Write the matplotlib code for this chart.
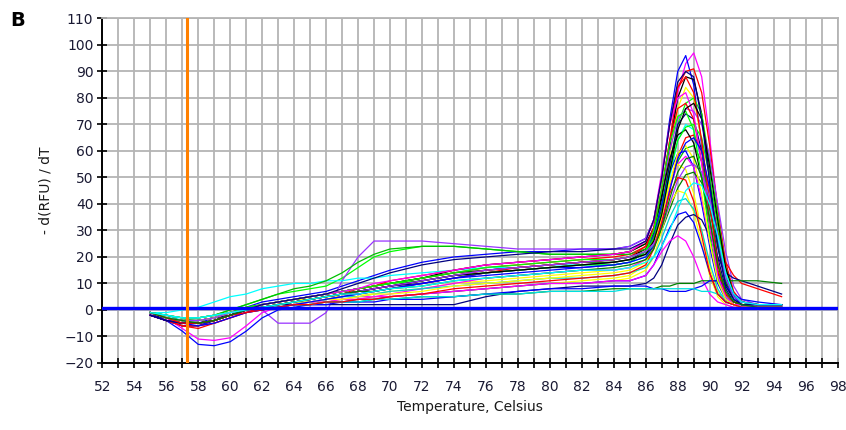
import matplotlib
matplotlib.use("Agg")
from matplotlib import pyplot as plt
from matplotlib.ticker import MultipleLocator

# temperature points (Celsius)
temps = [55, 56, 57, 58, 59, 60, 61, 62, 63, 64, 65, 66, 67, 68, 69, 70, 72, 74, 76, 78,
         80, 82, 84, 85, 86, 86.5, 87, 87.5, 88, 88.5, 89, 89.5, 90, 90.5, 91, 91.5, 92, 93, 94.5]

# -d(RFU)/dT per well
m1 = [-1, -3, -4, -4, -3, -1, 1, 2, 3, 4, 5, 6, 7, 8, 9, 10, 12, 14, 15, 16, 17, 18, 19, 20, 23, 28, 40, 60, 82, 93, 97, 88, 65, 38, 16, 6, 3, 2, 2]
b1 = [-2, -4, -5, -5, -3, -1, 1, 3, 4, 5, 6, 7, 9, 11, 13, 15, 18, 20, 21, 22, 22, 23, 23, 24, 27, 34, 50, 72, 90, 96, 85, 62, 35, 14, 5, 3, 2, 2, 2]
r1 = [-1, -3, -5, -5, -4, -2, 0, 2, 3, 4, 5, 6, 7, 8, 9, 10, 12, 14, 16, 17, 18, 19, 20, 21, 24, 30, 44, 64, 84, 90, 91, 82, 62, 38, 18, 7, 3, 2, 2]
k1 = [-2, -4, -6, -6, -4, -2, 0, 1, 2, 3, 4, 5, 6, 7, 8, 9, 11, 13, 15, 16, 17, 18, 19, 20, 23, 29, 42, 62, 80, 88, 87, 74, 50, 26, 10, 4, 2, 1, 1]
y1 = [-1, -3, -4, -4, -3, -1, 1, 2, 3, 4, 4, 5, 5, 6, 6, 7, 8, 10, 11, 12, 13, 14, 15, 16, 19, 25, 38, 58, 76, 84, 80, 64, 40, 18, 7, 3, 2, 1, 1]
g1 = [-1, -3, -4, -3, -2, 0, 2, 4, 6, 7, 8, 9, 12, 16, 20, 22, 24, 24, 23, 22, 21, 21, 21, 22, 25, 30, 40, 55, 70, 78, 80, 74, 56, 36, 16, 6, 3, 2, 2]
p1 = [-1, -2, -3, -3, -2, -1, 0, 0, -5, -5, -5, -1, 11, 20, 26, 26, 26, 25, 24, 23, 23, 23, 23, 24, 27, 33, 45, 60, 72, 76, 75, 70, 58, 40, 22, 9, 4, 2, 2]
c1 = [-1, -1, 0, 1, 3, 5, 6, 8, 9, 10, 10, 11, 11, 12, 12, 13, 14, 15, 16, 16, 17, 17, 17, 18, 20, 25, 35, 50, 64, 70, 68, 56, 36, 18, 7, 3, 2, 1, 1]
n1 = [-2, -4, -5, -5, -4, -2, 0, 1, 2, 3, 4, 5, 6, 7, 8, 9, 10, 12, 14, 15, 16, 17, 18, 19, 22, 27, 38, 55, 70, 74, 72, 60, 40, 20, 8, 3, 2, 1, 1]
r2 = [-1, -3, -4, -4, -3, -2, 0, 1, 2, 3, 4, 5, 6, 6, 7, 8, 10, 12, 14, 16, 17, 18, 19, 20, 22, 26, 34, 46, 58, 65, 66, 60, 45, 30, 18, 13, 10, 8, 5]
g2 = [-1, -2, -3, -3, -2, 0, 2, 4, 6, 8, 9, 11, 14, 18, 21, 23, 24, 24, 23, 22, 21, 21, 21, 21, 23, 27, 35, 46, 56, 61, 62, 56, 42, 26, 11, 5, 3, 2, 2]
b2 = [-2, -4, -6, -6, -4, -2, -1, 0, 1, 2, 3, 4, 5, 6, 7, 8, 10, 12, 14, 15, 16, 16, 17, 18, 22, 28, 40, 52, 59, 60, 54, 40, 24, 10, 4, 2, 2, 1, 1]
m2 = [-1, -3, -5, -5, -4, -2, 0, 1, 2, 3, 3, 4, 4, 5, 5, 6, 8, 10, 12, 13, 14, 15, 15, 16, 19, 24, 34, 46, 55, 58, 54, 42, 26, 12, 5, 2, 1, 1, 1]
y2 = [-1, -2, -3, -3, -2, -1, 0, 1, 1, 2, 2, 3, 3, 4, 4, 5, 6, 7, 8, 9, 10, 11, 12, 13, 17, 24, 36, 48, 55, 53, 44, 30, 16, 7, 3, 2, 1, 1, 1]
k2 = [-2, -4, -5, -5, -4, -2, 0, 2, 3, 4, 5, 6, 7, 8, 9, 10, 12, 15, 17, 18, 19, 20, 21, 22, 25, 31, 43, 57, 66, 68, 63, 50, 32, 15, 6, 3, 2, 1, 1]
dg1 = [-1, -3, -4, -4, -3, -1, 1, 2, 3, 4, 5, 6, 7, 8, 9, 10, 12, 14, 15, 16, 17, 18, 18, 19, 21, 24, 30, 38, 46, 51, 52, 48, 38, 24, 11, 5, 3, 2, 2]
y3 = [-1, -2, -3, -3, -2, -1, 0, 1, 2, 2, 3, 3, 4, 4, 5, 5, 6, 7, 8, 9, 10, 10, 11, 12, 15, 20, 30, 40, 45, 44, 37, 25, 13, 5, 2, 1, 1, 1, 1]
c2 = [-1, -2, -4, -4, -3, -1, 0, 1, 2, 3, 3, 4, 5, 5, 6, 7, 8, 9, 10, 11, 12, 12, 13, 14, 16, 20, 27, 35, 41, 42, 38, 30, 18, 8, 3, 2, 1, 1, 1]
r3 = [-2, -4, -6, -7, -5, -3, -1, 1, 2, 3, 4, 5, 6, 7, 8, 9, 11, 13, 15, 16, 17, 18, 19, 20, 24, 31, 46, 64, 76, 78, 72, 56, 34, 15, 6, 3, 2, 2, 2]
g3 = [-1, -3, -5, -5, -4, -2, 0, 2, 3, 4, 5, 6, 7, 8, 9, 10, 12, 14, 16, 17, 18, 19, 19, 20, 22, 27, 37, 52, 64, 69, 70, 65, 50, 32, 14, 5, 3, 2, 2]
b3 = [-1, -4, -8, -13, -13.5, -12, -8, -3, 0, 1, 2, 3, 3, 4, 4, 5, 6, 7, 8, 9, 10, 10, 11, 11, 13, 17, 24, 31, 36, 37, 33, 24, 14, 6, 3, 2, 1, 1, 1]
n2 = [-2, -3, -4, -4, -3, -2, 0, 1, 2, 2, 2, 2, 2, 2, 2, 2, 2, 2, 5, 7, 8, 9, 9, 9, 10, 12, 17, 25, 32, 35, 36, 34, 28, 20, 14, 12, 11, 9, 6]
m3 = [-1, -3, -7, -11, -11.5, -10.5, -6, -1, 1, 2, 3, 3, 4, 4, 5, 5, 6, 7, 8, 9, 10, 10, 11, 11, 13, 17, 22, 26, 28, 26, 20, 12, 6, 3, 2, 1, 1, 1, 1]
dg2 = [-1, -2, -3, -3, -2, -1, 0, 1, 1, 2, 2, 3, 3, 3, 4, 4, 5, 5, 6, 6, 7, 7, 8, 8, 8, 8, 9, 9, 10, 10, 10, 11, 11, 11, 11, 11, 11, 11, 10]
b4 = [-1, -3, -4, -4, -3, -1, 0, 1, 1, 2, 2, 2, 3, 3, 3, 4, 4, 5, 6, 7, 8, 8, 9, 9, 9, 8, 8, 7, 7, 7, 8, 9, 11, 11, 9, 6, 4, 3, 2]
c3 = [-1, -2, -3, -3, -2, -1, 0, 1, 1, 2, 2, 3, 3, 3, 4, 4, 5, 5, 6, 6, 7, 7, 7, 8, 8, 8, 8, 8, 8, 8, 8, 7, 7, 6, 5, 4, 3, 2, 2]
r4 = [-2, -4, -6, -6, -5, -3, -1, 1, 2, 3, 4, 5, 6, 8, 9, 11, 13, 15, 17, 18, 19, 20, 21, 22, 26, 34, 50, 70, 84, 88, 82, 64, 40, 18, 6, 3, 2, 2, 2]
g4 = [-1, -3, -4, -4, -3, -1, 1, 2, 3, 4, 5, 6, 7, 8, 9, 10, 11, 13, 14, 15, 16, 17, 17, 18, 22, 30, 46, 63, 73, 75, 68, 50, 28, 12, 5, 2, 2, 1, 1]
m4 = [-2, -4, -5, -5, -4, -2, 0, 2, 3, 4, 5, 6, 7, 8, 10, 11, 13, 15, 17, 18, 19, 20, 21, 22, 26, 34, 52, 70, 80, 82, 74, 55, 32, 13, 5, 2, 2, 1, 1]
y4 = [-1, -3, -4, -4, -3, -1, 0, 1, 2, 3, 3, 4, 4, 5, 6, 6, 7, 9, 10, 11, 12, 13, 14, 15, 18, 24, 35, 48, 59, 62, 57, 44, 26, 11, 4, 2, 1, 1, 1]
k3 = [-2, -4, -5, -5, -4, -2, 0, 1, 2, 3, 4, 5, 6, 7, 8, 9, 11, 13, 14, 15, 16, 17, 18, 19, 21, 26, 36, 52, 68, 76, 78, 72, 54, 34, 16, 6, 3, 2, 2]
b5 = [-2, -4, -5, -6, -5, -3, -1, 0, 1, 2, 3, 4, 5, 6, 7, 8, 10, 12, 13, 14, 15, 16, 17, 18, 20, 24, 32, 45, 57, 63, 65, 60, 46, 28, 12, 5, 2, 2, 2]
p2 = [-1, -3, -4, -4, -3, -1, 0, 1, 2, 3, 4, 5, 6, 7, 8, 9, 11, 13, 15, 16, 17, 18, 19, 20, 22, 25, 31, 40, 49, 54, 55, 52, 42, 28, 12, 5, 3, 2, 2]
n3 = [-2, -4, -5, -5, -4, -2, 0, 2, 3, 4, 5, 6, 8, 10, 12, 14, 17, 19, 20, 21, 22, 22, 23, 23, 26, 34, 50, 70, 86, 90, 88, 72, 48, 24, 9, 4, 2, 2, 2]
r5 = [-1, -3, -5, -5, -4, -2, -1, 0, 1, 2, 2, 3, 3, 4, 4, 5, 6, 8, 9, 10, 11, 12, 13, 14, 17, 23, 33, 44, 50, 49, 41, 28, 14, 6, 3, 2, 1, 1, 1]
g5 = [-1, -3, -4, -5, -4, -2, 0, 1, 2, 3, 4, 5, 6, 7, 7, 8, 9, 11, 12, 13, 14, 15, 16, 17, 19, 23, 31, 42, 52, 57, 58, 50, 34, 17, 7, 3, 2, 1, 1]
c4 = [-1, -2, -3, -3, -2, -1, 0, 1, 2, 3, 4, 5, 6, 6, 7, 8, 9, 11, 12, 13, 14, 15, 15, 16, 18, 20, 24, 30, 38, 45, 48, 47, 40, 28, 14, 6, 3, 2, 2]

wells = [m1, b1, r1, k1, y1, g1, p1, c1, n1, r2, g2, b2, m2, y2, k2, dg1, y3, c2, r3, g3,
         b3, n2, m3, dg2, b4, c3, r4, g4, m4, y4, k3, b5, p2, n3, r5, g5, c4]
well_colors = ["#ff00ff", "#0000ff", "#ff0000", "#000000", "#ffff00", "#00ff00", "#9933ff",
               "#00ffff", "#000080", "#ff0000", "#00c000", "#0000ff", "#ff00ff", "#ffff00",
               "#000000", "#008000", "#ffff00", "#00d0d0", "#ff0000", "#00ff00",
               "#0000ff", "#000080", "#ff00ff", "#008000", "#0000ff", "#00e0e0", "#ff0000",
               "#00ff00", "#ff00ff", "#ffff00", "#000000", "#0000ff", "#9933ff", "#000080",
               "#ff0000", "#008000", "#00ffff"]

threshold = 0.7
cursor_temp = 57.3

fig = plt.figure(figsize=(8.46, 4.30), dpi=100)
ax = fig.add_axes([0.121, 0.156, 0.869, 0.801])

for vals, col in zip(wells, well_colors):
    ax.plot(temps, vals, color=col, lw=0.9, zorder=2)

ax.axhline(threshold, color="#0000ff", lw=2.4, zorder=4)
ax.axvline(cursor_temp, color="#ff8000", lw=2.2, zorder=5)

ax.set_xlim(52, 98)
ax.set_ylim(-20, 110)
ax.xaxis.set_major_locator(MultipleLocator(2))
ax.xaxis.set_minor_locator(MultipleLocator(1))
ax.yaxis.set_major_locator(MultipleLocator(10))
ax.grid(True, which="both", axis="x", color="#b4b4b4", lw=1.3, zorder=0)
ax.grid(True, which="major", axis="y", color="#b4b4b4", lw=1.3, zorder=0)
ax.set_axisbelow(True)

ax.tick_params(axis="both", which="both", direction="inout", length=7, width=1.2,
               color="black", labelsize=10, labelcolor="#1a1a33")
ax.tick_params(axis="x", which="major", pad=9)
ax.tick_params(axis="y", pad=3)

for side in ["left", "bottom"]:
    ax.spines[side].set_color("black")
    ax.spines[side].set_linewidth(1.4)
for side in ["top", "right"]:
    ax.spines[side].set_color("#b4b4b4")
    ax.spines[side].set_linewidth(1.3)

ax.set_xlabel("Temperature, Celsius", fontsize=10, color="#1a1a1a", labelpad=4)
ax.set_ylabel("- d(RFU) / dT", fontsize=10, color="#1a1a1a", labelpad=8)

fig.text(0.012, 0.975, "B", fontsize=14, fontweight="bold", va="top")

fig.savefig("out.png", dpi=100)
